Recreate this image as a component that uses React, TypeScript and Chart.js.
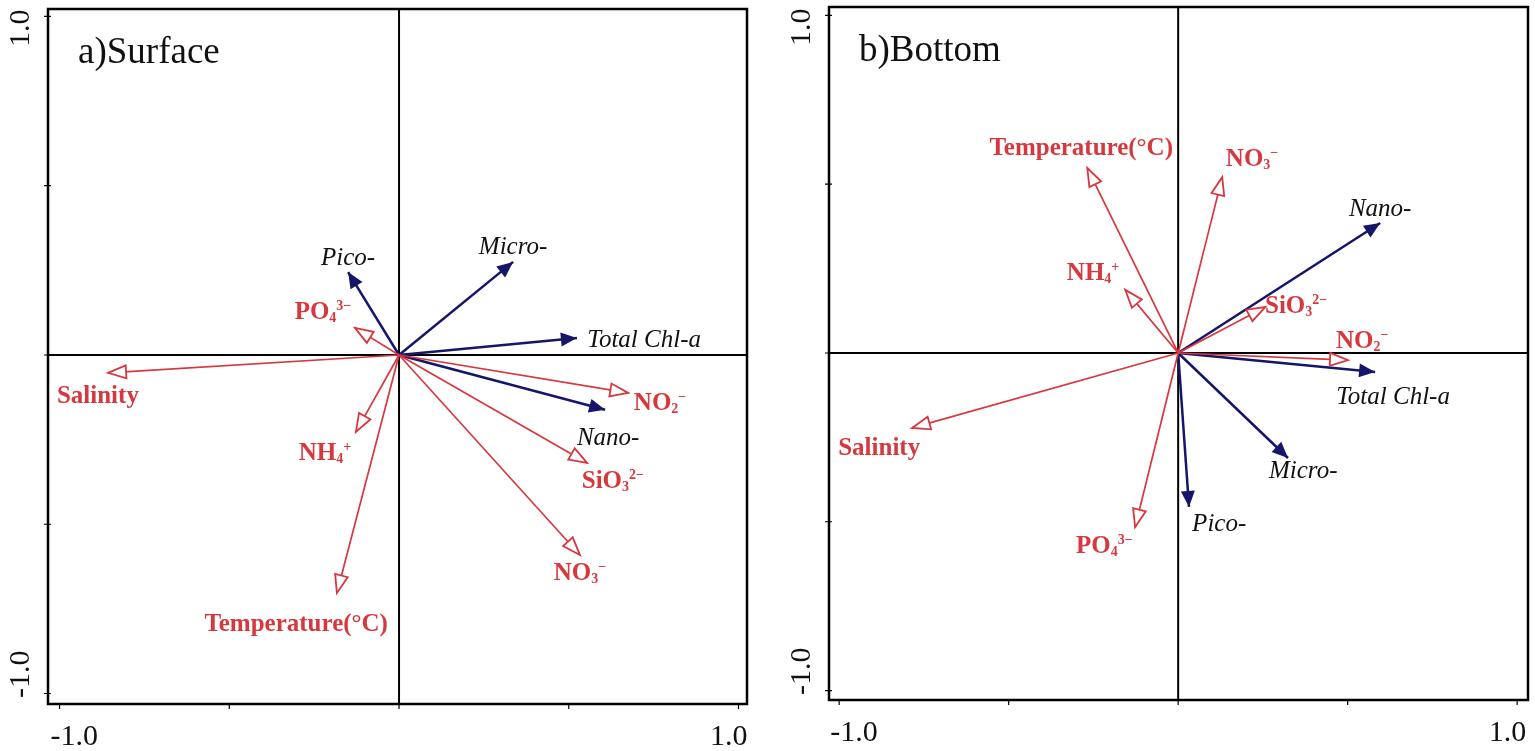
import React, { useEffect, useRef } from 'react';
import { Chart, registerables } from 'chart.js';
Chart.register(...registerables);

// ---------- a) Surface ----------
const surfEnvNames = ['Salinity', 'PO_4^3−', 'NH_4^+', 'Temperature(°C)', 'NO_3^−', 'SiO_3^2−', 'NO_2^−'];
const surfEnvX = [-0.857, -0.13, -0.127, -0.183, 0.533, 0.554, 0.675];
const surfEnvY = [-0.053, 0.08, -0.227, -0.703, -0.591, -0.319, -0.112];
const surfEnvLabelX = [-0.887, -0.224, -0.218, -0.303, 0.533, 0.63, 0.769];
const surfEnvLabelY = [-0.118, 0.13, -0.287, -0.792, -0.641, -0.369, -0.139];

const surfBioNames = ['Pico-', 'Micro-', 'Total Chl-a', 'Nano-'];
const surfBioX = [-0.15, 0.336, 0.524, 0.607];
const surfBioY = [0.245, 0.275, 0.05, -0.162];
const surfBioLabelX = [-0.15, 0.336, 0.722, 0.616];
const surfBioLabelY = [0.29, 0.322, 0.047, -0.242];

// ---------- b) Bottom ----------
const botEnvNames = ['Temperature(°C)', 'NH_4^+', 'NO_3^−', 'SiO_3^2−', 'NO_2^−', 'Salinity', 'PO_4^3−'];
const botEnvX = [-0.268, -0.156, 0.13, 0.257, 0.501, -0.785, -0.127];
const botEnvY = [0.548, 0.187, 0.521, 0.136, -0.021, -0.222, -0.516];
const botEnvLabelX = [-0.286, -0.251, 0.218, 0.348, 0.543, -0.882, -0.218];
const botEnvLabelY = [0.61, 0.24, 0.578, 0.142, 0.039, -0.279, -0.569];

const botBioNames = ['Nano-', 'Total Chl-a', 'Pico-', 'Micro-'];
const botBioX = [0.596, 0.581, 0.032, 0.324];
const botBioY = [0.385, -0.056, -0.456, -0.311];
const botBioLabelX = [0.596, 0.634, 0.121, 0.369];
const botBioLabelY = [0.43, -0.127, -0.504, -0.347];

// ---------- axes ----------
const tickValues = [-1, -0.5, 0, 0.5, 1];
const tickLabelValues = [-1, 1];
const tickLabelTexts = ['-1.0', '1.0'];

const FONT = '"Liberation Serif", "Times New Roman", Times, serif';
const RED = '#d6383e';
const NAVY = '#15156a';

type Panel = {
  title: string;
  envNames: string[]; envX: number[]; envY: number[]; envLX: number[]; envLY: number[];
  bioNames: string[]; bioX: number[]; bioY: number[]; bioLX: number[]; bioLY: number[];
  xMin: number; xMax: number; yMin: number; yMax: number;
  padding: { left: number; top: number; right: number; bottom: number };
};

const panels: Panel[] = [
  {
    title: 'a)Surface',
    envNames: surfEnvNames, envX: surfEnvX, envY: surfEnvY, envLX: surfEnvLabelX, envLY: surfEnvLabelY,
    bioNames: surfBioNames, bioX: surfBioX, bioY: surfBioY, bioLX: surfBioLabelX, bioLY: surfBioLabelY,
    xMin: -1.034, xMax: 1.025, yMin: -1.031, yMax: 1.022,
    padding: { left: 48, top: 9, right: 20, bottom: 47 },
  },
  {
    title: 'b)Bottom',
    envNames: botEnvNames, envX: botEnvX, envY: botEnvY, envLX: botEnvLabelX, envLY: botEnvLabelY,
    bioNames: botBioNames, bioX: botBioX, bioY: botBioY, bioLX: botBioLabelX, bioLY: botBioLabelY,
    xMin: -1.03, xMax: 1.032, yMin: -1.028, yMax: 1.025,
    padding: { left: 62, top: 7, right: 7, bottom: 51 },
  },
];

function parseRich(text: string) {
  const parts: { t: string; k: string }[] = [];
  let kind = 'n';
  let buf = '';
  for (const ch of text) {
    if (ch === '_' || ch === '^') {
      if (buf) parts.push({ t: buf, k: kind });
      buf = '';
      kind = ch === '_' ? 'sub' : 'sup';
    } else buf += ch;
  }
  if (buf) parts.push({ t: buf, k: kind });
  return parts;
}

function drawRich(ctx: CanvasRenderingContext2D, text: string, cx: number, cy: number, size: number, weight: string, style: string, color: string) {
  const parts = parseRich(text);
  const small = Math.round(size * 0.58);
  const fonts = parts.map((p) => `${style} ${weight} ${p.k === 'n' ? size : small}px ${FONT}`);
  const widths = parts.map((p, i) => { ctx.font = fonts[i]; return ctx.measureText(p.t).width; });
  const total = widths.reduce((a, b) => a + b, 0);
  let x = cx - total / 2;
  const base = cy + size * 0.33;
  ctx.fillStyle = color;
  ctx.textAlign = 'left';
  ctx.textBaseline = 'alphabetic';
  parts.forEach((p, i) => {
    ctx.font = fonts[i];
    const dy = p.k === 'sub' ? size * 0.1 : p.k === 'sup' ? -size * 0.36 : 0;
    ctx.fillText(p.t, x, base + dy);
    x += widths[i];
  });
}

function drawHead(ctx: CanvasRenderingContext2D, ox: number, oy: number, tx: number, ty: number, len: number, half: number, hollow: boolean, color: string) {
  const a = Math.atan2(ty - oy, tx - ox);
  const dx = Math.cos(a), dy = Math.sin(a);
  const bx = tx - dx * len, by = ty - dy * len;
  ctx.beginPath();
  ctx.moveTo(tx, ty);
  ctx.lineTo(bx - dy * half, by + dx * half);
  ctx.lineTo(bx + dy * half, by - dx * half);
  ctx.closePath();
  if (hollow) {
    ctx.fillStyle = '#ffffff';
    ctx.fill();
    ctx.strokeStyle = color;
    ctx.lineWidth = 1.8;
    ctx.lineJoin = 'miter';
    ctx.stroke();
  } else {
    ctx.fillStyle = color;
    ctx.fill();
  }
}

function makePlugin(p: Panel) {
  return {
    id: 'biplotDecor',
    beforeDatasetsDraw(chart: any) {
      const { ctx, chartArea: a, scales } = chart;
      const x0 = scales.x.getPixelForValue(0);
      const y0 = scales.y.getPixelForValue(0);
      ctx.save();
      ctx.strokeStyle = '#000';
      ctx.lineWidth = 2;
      ctx.beginPath();
      ctx.moveTo(a.left, y0); ctx.lineTo(a.right, y0);
      ctx.moveTo(x0, a.top); ctx.lineTo(x0, a.bottom);
      ctx.stroke();
      ctx.restore();
    },
    afterDatasetsDraw(chart: any) {
      const { ctx, chartArea: a, scales } = chart;
      const sx = scales.x, sy = scales.y;
      const ox = sx.getPixelForValue(0), oy = sy.getPixelForValue(0);
      ctx.save();
      // heads
      p.envX.forEach((v, i) => {
        drawHead(ctx, ox, oy, sx.getPixelForValue(v), sy.getPixelForValue(p.envY[i]), 18, 6.5, true, RED);
      });
      p.bioX.forEach((v, i) => {
        drawHead(ctx, ox, oy, sx.getPixelForValue(v), sy.getPixelForValue(p.bioY[i]), 16, 7, false, NAVY);
      });
      // labels
      p.envNames.forEach((n, i) => {
        drawRich(ctx, n, sx.getPixelForValue(p.envLX[i]), sy.getPixelForValue(p.envLY[i]), 25, 'bold', 'normal', RED);
      });
      p.bioNames.forEach((n, i) => {
        drawRich(ctx, n, sx.getPixelForValue(p.bioLX[i]), sy.getPixelForValue(p.bioLY[i]), 25, 'normal', 'italic', '#111');
      });
      // frame
      ctx.strokeStyle = '#000';
      ctx.lineWidth = 2.5;
      ctx.strokeRect(a.left, a.top, a.right - a.left, a.bottom - a.top);
      // ticks
      ctx.lineWidth = 1.2;
      ctx.beginPath();
      tickValues.forEach((t) => {
        const px = sx.getPixelForValue(t);
        ctx.moveTo(px, a.bottom); ctx.lineTo(px, a.bottom + 5);
        const py = sy.getPixelForValue(t);
        ctx.moveTo(a.left - 4, py); ctx.lineTo(a.left + 3, py);
      });
      ctx.stroke();
      // tick labels
      ctx.fillStyle = '#111';
      ctx.font = `30px ${FONT}`;
      ctx.textBaseline = 'alphabetic';
      tickLabelValues.forEach((t, i) => {
        const txt = tickLabelTexts[i];
        const px = sx.getPixelForValue(t);
        const isMin = t < 0;
        ctx.textAlign = isMin ? 'left' : 'right';
        ctx.fillText(txt, isMin ? px - 9 : px + 9, a.bottom + 41);
        const py = sy.getPixelForValue(t);
        ctx.save();
        ctx.translate(a.left - 29 + 30 * 0.34, isMin ? py + 4.5 : py - 7);
        ctx.rotate(-Math.PI / 2);
        ctx.textAlign = isMin ? 'left' : 'right';
        ctx.fillText(txt, 0, 0);
        ctx.restore();
      });
      // title
      ctx.font = `37px ${FONT}`;
      ctx.textAlign = 'left';
      ctx.fillStyle = '#111';
      ctx.fillText(p.title, a.left + 30, a.top + 54);
      ctx.restore();
    },
  };
}

function BiplotPanel({ panel }: { panel: Panel }) {
  const ref = useRef<HTMLCanvasElement | null>(null);
  useEffect(() => {
    if (!ref.current) return;
    const datasets: any[] = [];
    panel.envX.forEach((v, i) => {
      datasets.push({
        label: panel.envNames[i],
        data: [{ x: 0, y: 0 }, { x: v, y: panel.envY[i] }],
        borderColor: RED, borderWidth: 1.7, pointRadius: 0, showLine: true, fill: false,
      });
    });
    panel.bioX.forEach((v, i) => {
      datasets.push({
        label: panel.bioNames[i],
        data: [{ x: 0, y: 0 }, { x: v, y: panel.bioY[i] }],
        borderColor: NAVY, borderWidth: 2.5, pointRadius: 0, showLine: true, fill: false,
      });
    });
    const chart = new Chart(ref.current, {
      type: 'line',
      data: { datasets },
      options: {
        animation: false,
        responsive: true,
        maintainAspectRatio: false,
        layout: { padding: panel.padding },
        plugins: { legend: { display: false }, tooltip: { enabled: false } },
        scales: {
          x: { type: 'linear', min: panel.xMin, max: panel.xMax, display: false },
          y: { type: 'linear', min: panel.yMin, max: panel.yMax, display: false },
        },
      } as any,
      plugins: [makePlugin(panel)],
    });
    return () => chart.destroy();
  }, [panel]);
  return <canvas ref={ref} />;
}

export default function App() {
  return (
    <div style={{ position: 'absolute', left: 0, top: 0, width: 1535, height: 751, background: '#fff' }}>
      <div style={{ position: 'absolute', left: 0, top: 0, width: 767, height: 751 }}>
        <BiplotPanel panel={panels[0]} />
      </div>
      <div style={{ position: 'absolute', left: 767, top: 0, width: 768, height: 751 }}>
        <BiplotPanel panel={panels[1]} />
      </div>
    </div>
  );
}
